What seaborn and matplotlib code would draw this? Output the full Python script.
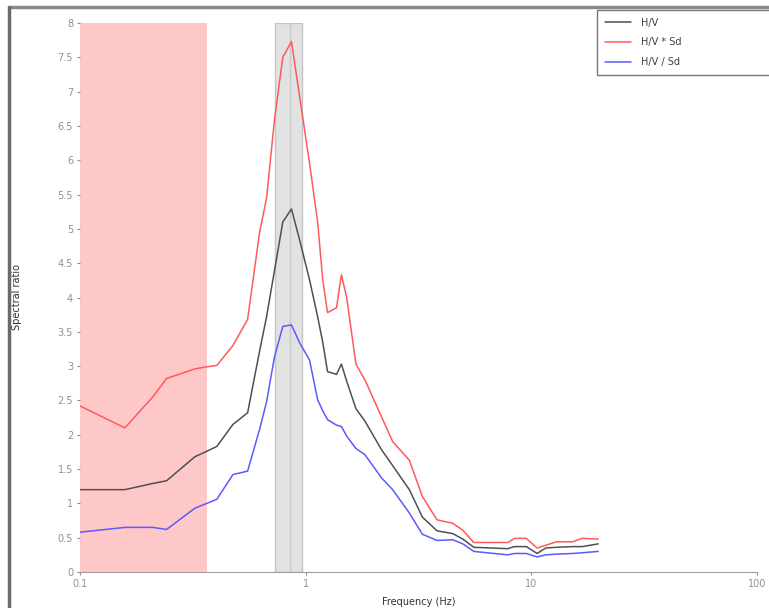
import pandas as pd
import matplotlib
matplotlib.use("Agg")
import matplotlib.pyplot as plt
import seaborn as sns
from matplotlib.lines import Line2D

# frequency grid (Hz) shared by the three curves
freq = [0.100, 0.158, 0.210, 0.242, 0.323, 0.365, 0.404, 0.476, 0.553, 0.625,
        0.671, 0.728, 0.792, 0.865, 0.940, 1.04, 1.13, 1.19, 1.25, 1.37,
        1.44, 1.52, 1.67, 1.83, 2.17, 2.43, 2.88, 3.29, 3.82, 4.48,
        4.97, 5.56, 7.85, 8.43, 9.5, 10.6, 11.6, 12.9, 15.2, 16.8, 19.8]

hv = [1.20, 1.20, 1.29, 1.33, 1.68, 1.76, 1.83, 2.15, 2.32, 3.22,
      3.72, 4.40, 5.10, 5.29, 4.84, 4.26, 3.72, 3.35, 2.92, 2.88,
      3.03, 2.78, 2.38, 2.20, 1.78, 1.55, 1.20, 0.80, 0.60, 0.56,
      0.48, 0.36, 0.34, 0.37, 0.37, 0.27, 0.35, 0.36, 0.37, 0.37, 0.41]

hv_sd_up = [2.42, 2.10, 2.55, 2.82, 2.96, 2.99, 3.01, 3.30, 3.68, 4.95,
            5.45, 6.60, 7.50, 7.73, 6.93, 5.96, 5.10, 4.26, 3.78, 3.85,
            4.33, 4.00, 3.03, 2.80, 2.26, 1.90, 1.63, 1.10, 0.76, 0.71,
            0.61, 0.43, 0.43, 0.49, 0.49, 0.35, 0.39, 0.44, 0.44, 0.49, 0.48]

hv_sd_down = [0.58, 0.65, 0.65, 0.62, 0.93, 1.00, 1.06, 1.42, 1.47, 2.08,
              2.48, 3.14, 3.58, 3.60, 3.34, 3.09, 2.51, 2.35, 2.22, 2.14,
              2.12, 1.98, 1.80, 1.71, 1.37, 1.20, 0.86, 0.55, 0.46, 0.47,
              0.41, 0.30, 0.25, 0.27, 0.27, 0.22, 0.25, 0.26, 0.27, 0.28, 0.30]

series_names = ["H/V", "H/V * Sd", "H/V / Sd"]
series_colors = ["#505050", "#ff5a5a", "#5a5aff"]

# peak frequency window and the low-frequency band
f0 = 0.85
f0_low, f0_high = 0.73, 0.96
band_low, band_high = 0.1, 0.365

y_ticks = [0, 0.5, 1, 1.5, 2, 2.5, 3, 3.5, 4, 4.5, 5, 5.5, 6, 6.5, 7, 7.5, 8]
x_ticks = [0.1, 1, 10, 100]

# long-form table for seaborn
frames = []
for name, vals in zip(series_names, [hv, hv_sd_up, hv_sd_down]):
    frames.append(pd.DataFrame({"freq": freq, "ratio": vals, "curve": name}))
df = pd.concat(frames, ignore_index=True)

sns.set_style("white")
plt.rcParams["font.family"] = ["DejaVu Sans"]

fig = plt.figure(figsize=(7.69, 6.08), dpi=100)
ax = fig.add_axes([80 / 769, 1 - 572 / 608, 677 / 769, 549 / 608])

ax.axvspan(band_low, band_high, color="#ffc8c8", lw=0, zorder=0)
ax.axvspan(f0_low, f0_high, facecolor="#e2e2e2", edgecolor="#c4c4c4", lw=1, zorder=0)
ax.axvline(f0, color="#c8c8c8", lw=1, zorder=0.5)

sns.lineplot(data=df, x="freq", y="ratio", hue="curve", hue_order=series_names,
             palette=series_colors, estimator=None, sort=True, lw=1.1, ax=ax,
             legend=False)

ax.set_xscale("log")
ax.set_xlim(0.1, 100)
ax.set_ylim(0, 8)
ax.set_xticks(x_ticks)
ax.set_xticklabels(["0.1", "1", "10", "100"])
ax.set_xticks([], minor=True)
ax.set_yticks(y_ticks)
ax.set_yticklabels([f"{t:g}" for t in y_ticks])
ax.tick_params(axis="both", labelsize=7, colors="#909090", length=2, width=0.8, pad=3)
ax.tick_params(axis="x", bottom=True)
ax.tick_params(axis="y", left=True)

for side in ["left", "top", "right"]:
    ax.spines[side].set_visible(False)
ax.spines["bottom"].set_color("#a0a0a0")
ax.spines["bottom"].set_linewidth(0.8)

ax.set_xlabel("Frequency (Hz)", fontsize=7, color="#303030")
ax.xaxis.set_label_coords(0.5, -0.045)
ax.set_ylabel("Spectral ratio", fontsize=7, color="#303030")
ax.yaxis.set_label_coords(-0.086, 0.5)

# legend box in the top-right corner
handles = [Line2D([0], [0], color=c, lw=1.1) for c in series_colors]
leg = fig.legend(handles, series_names, loc="upper left",
                 bbox_to_anchor=(597 / 769, 1 - 77 / 608, 180 / 769, 67 / 608),
                 mode="expand", fontsize=7, frameon=True, fancybox=False,
                 handlelength=2.7, handletextpad=1.0, labelspacing=1.0,
                 borderaxespad=0, borderpad=0.8)
leg.get_frame().set_edgecolor("#555555")
leg.get_frame().set_linewidth(1.0)
for t in leg.get_texts():
    t.set_color("#404040")

# outer frame lines of the original panel
fig.add_artist(Line2D([9 / 769, 1.0], [1 - 7 / 608, 1 - 7 / 608],
                      transform=fig.transFigure, color="#8a8a8a", lw=2.5))
fig.add_artist(Line2D([9 / 769, 9 / 769], [0, 1 - 7 / 608],
                      transform=fig.transFigure, color="#6a6a6a", lw=2.5))

fig.savefig("out.png", dpi=100)
